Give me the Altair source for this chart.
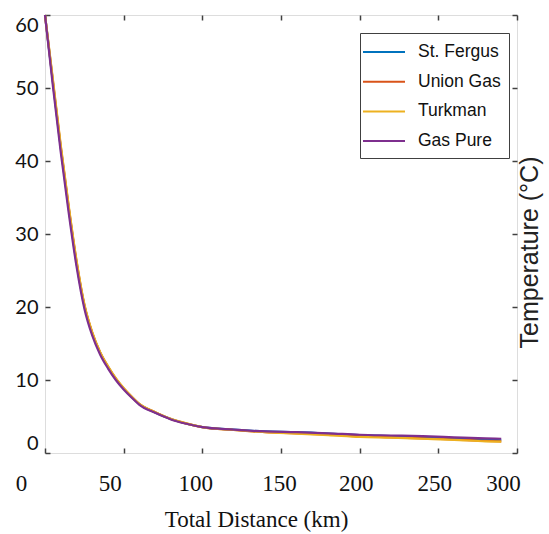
import altair as alt
import pandas as pd

# Distance along the pipeline (km)
distance = [0, 5, 10, 15, 20, 25, 30, 35, 40, 45, 50, 55, 60, 70, 80, 90,
            100, 120, 140, 160, 180, 200, 220, 240, 260, 280, 290]

# Gas temperature (°C) for each gas composition
st_fergus = [60, 50.8, 41.8, 33.6, 26.1, 20.2, 16.4, 13.75, 11.8, 10.15, 8.82, 7.7, 6.7, 5.55,
             4.65, 4.0, 3.55, 3.2, 2.95, 2.85, 2.65, 2.45, 2.3, 2.2, 2.05, 1.85, 1.75]
union_gas = [60, 51.0, 42.0, 33.8, 26.3, 20.3, 16.5, 13.8, 11.85, 10.2, 8.85, 7.72, 6.7, 5.58,
             4.65, 4.03, 3.55, 3.15, 2.85, 2.7, 2.5, 2.3, 2.15, 2.0, 1.85, 1.65, 1.6]
turkman = [60, 51.2, 42.2, 34.0, 26.45, 20.4, 16.55, 13.85, 11.9, 10.25, 8.9, 7.75, 6.72, 5.6,
           4.68, 4.05, 3.55, 3.15, 2.85, 2.65, 2.45, 2.2, 2.1, 1.95, 1.8, 1.6, 1.55]
gas_pure = [60, 50.3, 41.2, 33.0, 25.6, 19.8, 16.1, 13.5, 11.6, 10.0, 8.7, 7.6, 6.6, 5.5,
            4.6, 4.0, 3.55, 3.2, 2.95, 2.85, 2.7, 2.5, 2.4, 2.3, 2.15, 2.0, 1.95]

gases = ["St. Fergus", "Union Gas", "Turkman", "Gas Pure"]
colors = ["#0072BD", "#D95319", "#EDB120", "#7E2F8E"]
x_ticks = [0, 50, 100, 150, 200, 250, 300]
y_ticks = [0, 10, 20, 30, 40, 50, 60]

rows = []
for name, temps in zip(gases, [st_fergus, union_gas, turkman, gas_pure]):
    for d, t in zip(distance, temps):
        rows.append({"gas": name, "distance": d, "temperature": t})
df = pd.DataFrame(rows)

x_scale = alt.Scale(domain=[0, 300], nice=False, zero=False)
y_scale = alt.Scale(domain=[0, 60], nice=False, zero=False)

# Ticks point into the box: each axis is pulled inside by its tick length
tick_style = dict(offset=-5, tickSize=5, tickWidth=1.5, tickColor="#404040",
                  domain=False, grid=False)

x_label_shift = {
    "condition": [
        {"test": "datum.value == 0", "value": -24},
        {"test": "datum.value == 50", "value": -14},
        {"test": "datum.value == 100", "value": -7},
        {"test": "datum.value == 150", "value": -2},
        {"test": "datum.value == 300", "value": -14},
    ],
    "value": -4,
}

# Legend sample line: a horizontal stroke, longer than the symbol cell
legend_line = "M-1.6,0H2.6"

lines = alt.Chart(df).mark_line(strokeWidth=2.2, interpolate="monotone").encode(
    x=alt.X("distance:Q", scale=x_scale, title="Total Distance (km)",
            axis=alt.Axis(orient="bottom", values=x_ticks, labelFont="Liberation Serif",
                          labelFontSize=23, labelColor="#111", labelPadding=19,
                          labelFlush=False, labelOffset=x_label_shift,
                          titleFont="Liberation Serif", titleFontSize=23,
                          titleFontWeight="normal", titleColor="#111",
                          titleX=211, titleY=71, titleBaseline="middle",
                          **tick_style)),
    y=alt.Y("temperature:Q", scale=y_scale, title=None,
            axis=alt.Axis(orient="left", values=y_ticks, labelFont="Lato",
                          labelFontSize=20, labelColor="#111", labelPadding=7,
                          labelFlush=True, **tick_style)),
    color=alt.Color("gas:N", scale=alt.Scale(domain=gases, range=colors),
                    legend=alt.Legend(orient="none", legendX=315, legendY=18, title=None,
                                      symbolType=legend_line, symbolSize=400,
                                      symbolStrokeWidth=2, symbolFillColor="transparent",
                                      labelFont="Liberation Sans",
                                      labelFontSize=17.5, labelColor="#111",
                                      strokeColor="#404040", fillColor="white",
                                      padding=8, rowPadding=9.7, labelOffset=28)),
)

# Mirror axes on the top and right edges of the box
mirror = alt.Chart(df).mark_line(opacity=0).encode(
    x=alt.X("distance:Q", scale=x_scale, title=None,
            axis=alt.Axis(orient="top", values=x_ticks, labels=False, **tick_style)),
    y=alt.Y("temperature:Q", scale=y_scale, title="Temperature (°C)",
            axis=alt.Axis(orient="right", values=y_ticks, labels=False,
                          titleFont="Liberation Sans", titleFontSize=25,
                          titleFontWeight="normal", titleColor="#222",
                          titleAngle=270, titleY=237, titlePadding=25, **tick_style)),
    detail="gas:N",
)

chart = alt.layer(lines, mirror).resolve_axis(x="independent", y="independent").properties(
    width=472, height=438, autosize="none",
    padding={"left": 45, "top": 15, "right": 32, "bottom": 81},
).configure_view(stroke="#4a4a4a", strokeWidth=1.5).configure(background="white")

chart.save("out.html", embed_options={"renderer": "svg", "actions": False})
